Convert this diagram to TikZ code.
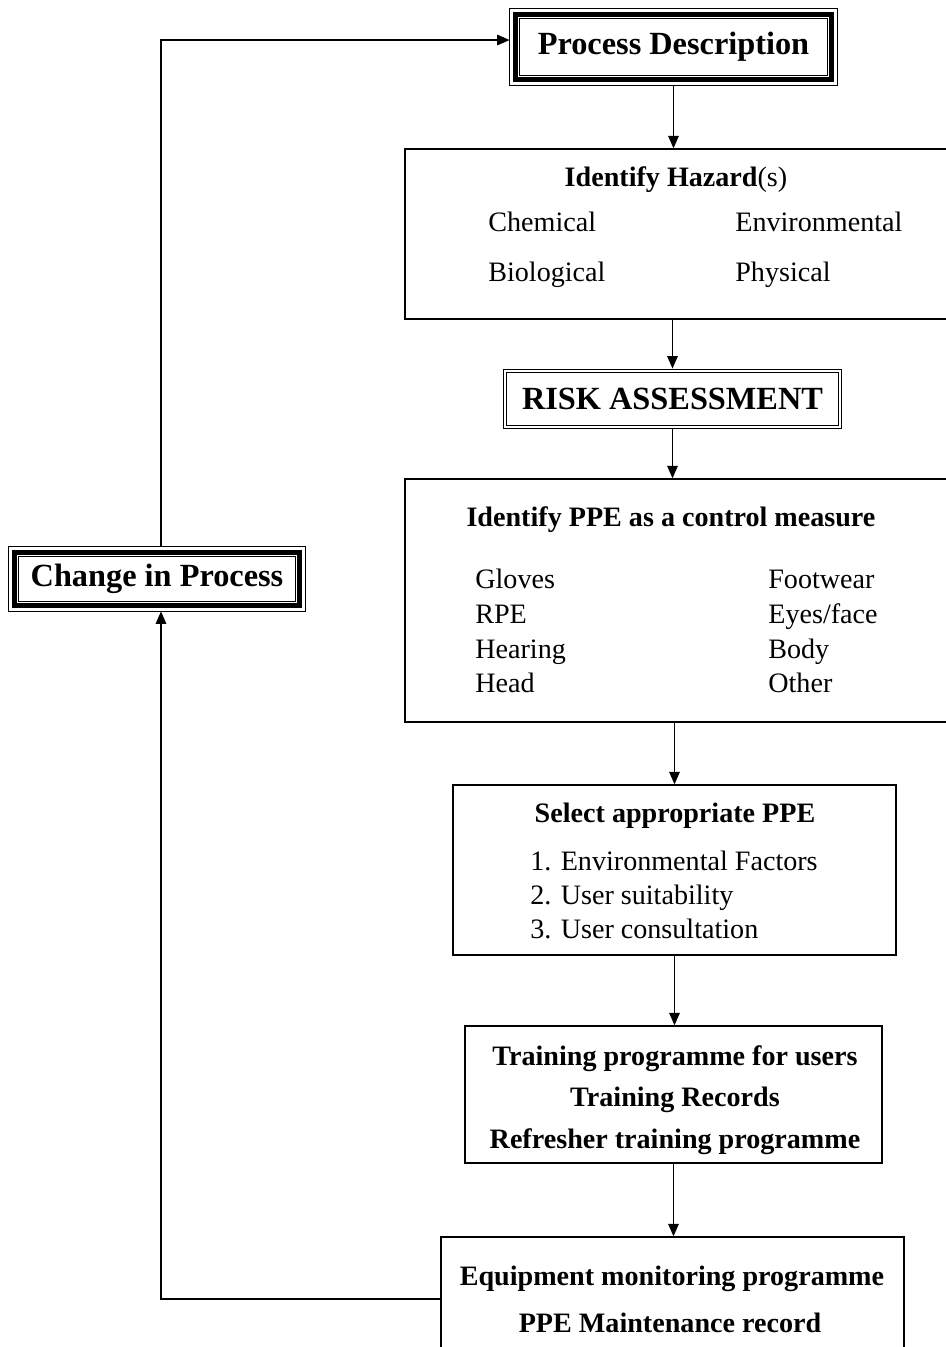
\documentclass[tikz,border=0pt]{standalone}
\usepackage{fontspec}
\setmainfont{Liberation Serif}
\usetikzlibrary{arrows.meta}

\tikzset{
  box/.style={draw, line width=0.8pt, inner sep=0pt},
  arr/.style={line width=0.8pt, -{Triangle[length=0.25cm,width=0.21cm]}},
  head/.style={font=\fontsize{16}{19}\selectfont\bfseries, anchor=base, inner sep=0pt},
  item/.style={font=\fontsize{16}{19}\selectfont, anchor=base west, inner sep=0pt},
  big/.style={font=\fontsize{18.4}{22}\selectfont\bfseries, inner sep=0pt},
}

% thin / thick / thin frame round a named node
\newcommand{\boldframe}[1]{%
  \draw[line width=0.5pt] (#1.south west) rectangle (#1.north east);
  \draw[line width=3pt] ([shift={(0.115cm,0.115cm)}]#1.south west) rectangle ([shift={(-0.115cm,-0.115cm)}]#1.north east);
  \draw[line width=0.5pt] ([shift={(0.2cm,0.2cm)}]#1.south west) rectangle ([shift={(-0.2cm,-0.2cm)}]#1.north east);
}

\begin{document}
\begin{tikzpicture}[x=0.02cm,y=-0.02cm]
	\useasboundingbox (0,0) rectangle (946,1347);

	% boxes
	\node[big, minimum width=6.54cm, minimum height=1.52cm] (procdesc) at (673.5,47) {Process Description};
	\boldframe{procdesc}
	\node[box, minimum width=10.9cm, minimum height=3.4cm] (hazard) at (677.5,234) {};
	\node[big, draw, line width=0.5pt, double, double distance=0.05cm, minimum width=6.7cm, minimum height=1.12cm] (risk) at (672.5,399) {RISK ASSESSMENT};
	\node[box, minimum width=10.9cm, minimum height=4.86cm] (ppe) at (677.5,600.5) {};
	\node[box, minimum width=8.86cm, minimum height=3.4cm] (select) at (674.5,870) {};
	\node[box, minimum width=8.34cm, minimum height=2.74cm] (training) at (673.5,1094.5) {};
	\node[box, minimum width=9.26cm, minimum height=2.48cm] (equip) at (672.5,1299) {};
	\node[big, minimum width=5.92cm, minimum height=1.28cm] (change) at (157,579) {Change in Process};
	\boldframe{change}

	% hazards
	\node[head] (hazhead) at (676,186) {Identify Hazard\textmd{(s)}};
	\node[item] (chem) at (488,231) {Chemical};
	\node[item] (envir) at (735,231) {Environmental};
	\node[item] (bio) at (488,281) {Biological};
	\node[item] (phys) at (735,281) {Physical};

	% ppe types
	\node[head] (ppehead) at (671,526) {Identify PPE as a control measure};
	\node[item] (gloves) at (475,588) {Gloves};
	\node[item] (rpe) at (475,623) {RPE};
	\node[item] (hearing) at (475,658) {Hearing};
	\node[item] (headppe) at (475,692) {Head};
	\node[item] (foot) at (768,588) {Footwear};
	\node[item] (eyes) at (768,623) {Eyes/face};
	\node[item] (body) at (768,658) {Body};
	\node[item] (other) at (768,692) {Other};

	% selection
	\node[head] (selhead) at (675,822) {Select appropriate PPE};
	\node[item] (factors) at (530,870) {1. Environmental Factors};
	\node[item] (suit) at (530,904) {2. User suitability};
	\node[item] (consult) at (530,938) {3. User consultation};

	% training
	\node[head] (train1) at (675,1065) {Training programme for users};
	\node[head] (train2) at (675,1106) {Training Records};
	\node[head] (train3) at (675,1148) {Refresher training programme};

	% monitoring
	\node[head] (equip1) at (672,1285) {Equipment monitoring programme};
	\node[head] (equip2) at (670,1332) {PPE Maintenance record};

	% connectors
	\draw[arr] (procdesc.south) -- (procdesc.south |- hazard.north);
	\draw[arr] (risk.north |- hazard.south) -- ([yshift=0.04cm]risk.north);
	\draw[arr] ([yshift=-0.04cm]risk.south) -- (risk.south |- ppe.north);
	\draw[arr] (select.north |- ppe.south) -- (select.north);
	\draw[arr] (select.south) -- (select.south |- training.north);
	\draw[arr] (training.south) -- (training.south |- equip.north);
	\draw[arr] (equip.west) -| ([xshift=0.08cm]change.south);
	\draw[arr] ([xshift=0.08cm]change.north) |- ([yshift=0.14cm]procdesc.west);
\end{tikzpicture}
\end{document}
